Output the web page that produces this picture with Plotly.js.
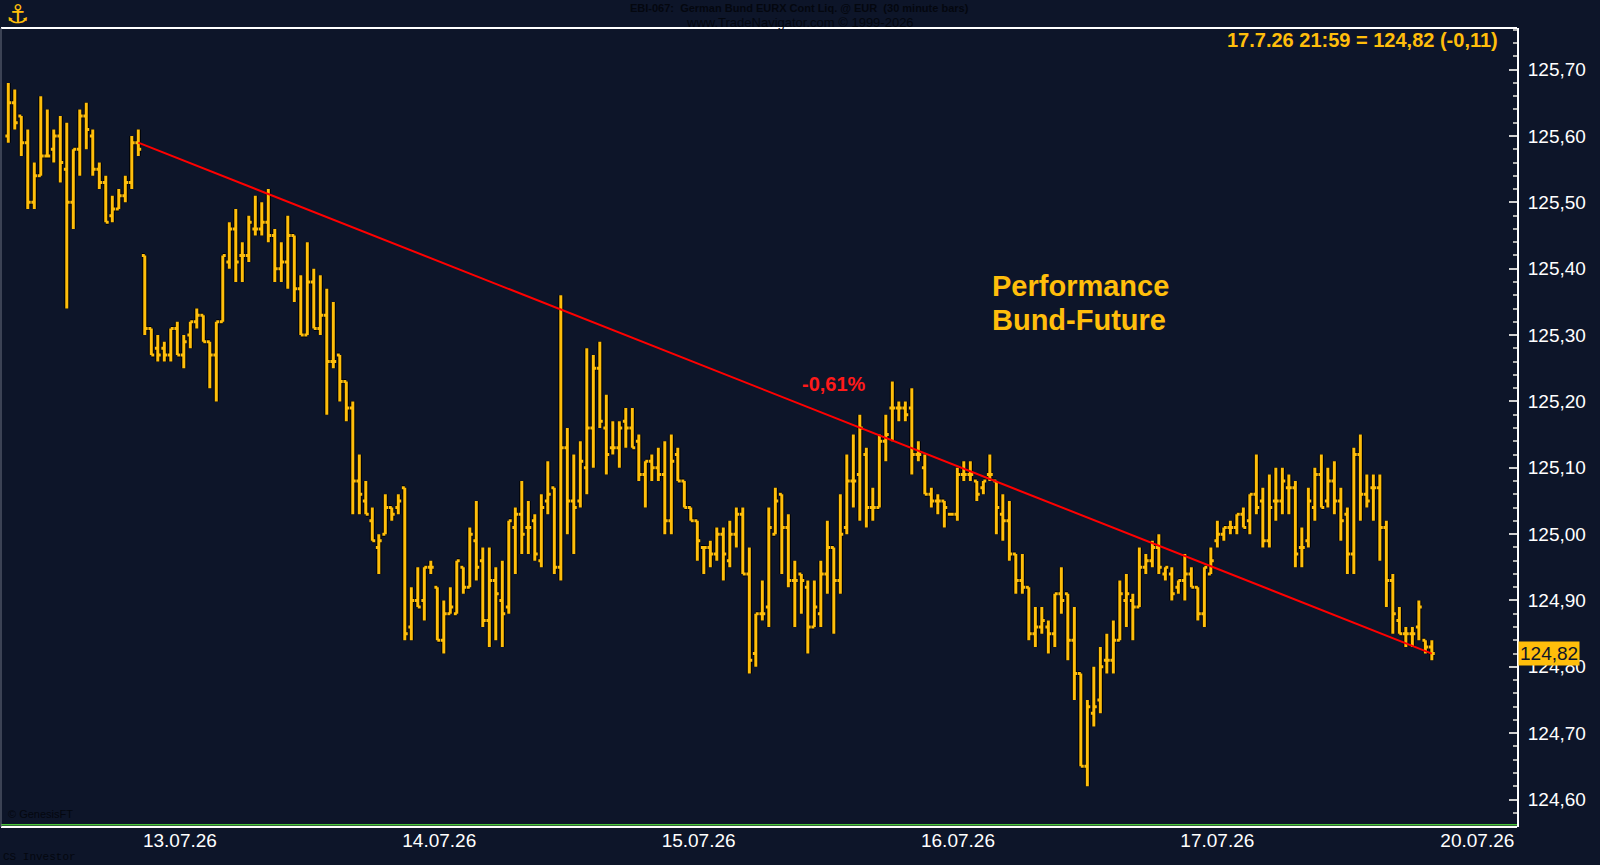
<!DOCTYPE html>
<html>
<head>
<meta charset="utf-8">
<script src="https://cdn.plot.ly/plotly-3.0.1.min.js"></script>
<style>
html,body{margin:0;padding:0;background:#0d1529;}
#chart{width:1600px;height:865px;}
</style>
</head>
<body>
<div id="chart"></div>
<script>
// 30-minute bars, German Bund EURX, 10.07.26 (late) to 17.07.26
const openP = [
125.60,125.65,125.63,125.59,125.50,125.54,125.57,125.58,125.60,125.55,
125.50,125.58,125.63,125.60,125.55,125.53,125.48,125.49,125.51,125.53,
125.59,125.42,125.31,125.28,125.28,125.27,125.31,125.27,125.30,125.32,
125.33,125.29,125.27,125.32,125.41,125.46,125.42,125.42,125.46,125.46,
125.47,125.45,125.40,125.41,125.45,125.37,125.30,125.38,125.31,125.33,
125.26,125.27,125.23,125.19,125.08,125.05,125.02,124.98,125.00,125.04,
125.04,125.07,124.86,124.90,124.90,124.95,124.92,124.84,124.88,124.88,
124.95,124.92,124.99,124.96,124.87,124.93,124.90,124.89,125.01,125.03,
125.01,125.02,124.96,125.05,125.07,124.95,125.13,125.05,125.05,125.10,
125.16,125.25,125.16,125.13,125.13,125.17,125.16,125.14,125.09,125.11,
125.10,125.09,125.02,125.12,125.08,125.04,125.02,124.98,124.98,124.97,
125.00,124.96,125.00,125.03,124.94,124.82,124.88,124.89,125.00,125.06,
125.01,124.93,124.94,124.92,124.86,124.88,124.94,124.98,124.93,125.01,
125.08,125.09,125.12,125.04,125.04,125.14,125.19,125.19,125.19,125.19,
125.12,125.10,125.06,125.05,125.05,125.03,125.03,125.09,125.09,125.08,
125.07,125.09,125.08,125.03,125.02,124.97,124.93,124.92,124.85,124.86,
124.86,124.85,124.91,124.91,124.84,124.79,124.65,124.73,124.75,124.81,
124.81,124.84,124.90,124.90,124.89,124.95,124.96,124.98,124.94,124.94,
124.92,124.93,124.94,124.92,124.88,124.94,124.99,125.00,125.01,125.01,
125.03,125.02,125.06,125.05,124.99,125.05,125.05,125.07,125.07,124.98,
124.99,125.04,125.09,125.05,125.08,125.05,125.03,124.97,125.12,125.06,
125.07,125.07,125.01,124.93,124.87,124.85,124.85,124.86,124.84,124.83
];
const highP = [
125.68,125.67,125.63,125.61,125.56,125.66,125.64,125.61,125.63,125.62,
125.58,125.64,125.65,125.61,125.56,125.54,125.51,125.52,125.54,125.60,
125.61,125.42,125.31,125.30,125.29,125.31,125.32,125.30,125.32,125.34,
125.33,125.29,125.32,125.42,125.47,125.49,125.44,125.48,125.51,125.50,
125.52,125.46,125.44,125.48,125.45,125.39,125.44,125.40,125.39,125.37,
125.35,125.27,125.23,125.20,125.12,125.08,125.04,125.00,125.06,125.04,
125.06,125.07,124.92,124.95,124.95,124.96,124.92,124.90,124.92,124.96,
124.95,125.01,125.05,124.98,124.98,124.95,124.96,125.02,125.04,125.08,
125.05,125.03,125.06,125.11,125.07,125.36,125.16,125.12,125.14,125.28,
125.27,125.29,125.21,125.17,125.17,125.19,125.19,125.15,125.11,125.12,
125.13,125.14,125.15,125.13,125.08,125.04,125.02,124.98,124.99,125.01,
125.01,125.02,125.04,125.04,124.98,124.88,124.93,125.04,125.07,125.06,
125.03,124.96,124.94,124.93,124.93,124.96,125.02,124.98,125.06,125.12,
125.15,125.18,125.13,125.07,125.15,125.18,125.23,125.20,125.20,125.22,
125.14,125.12,125.07,125.06,125.05,125.03,125.10,125.11,125.11,125.08,
125.08,125.12,125.08,125.06,125.05,124.97,124.97,124.92,124.89,124.89,
124.87,124.91,124.95,124.91,124.89,124.79,124.75,124.80,124.83,124.85,
124.87,124.93,124.94,124.91,124.98,124.97,124.99,125.00,124.95,124.95,
124.93,124.97,124.95,124.92,124.95,124.98,125.02,125.01,125.02,125.03,
125.04,125.06,125.12,125.07,125.09,125.10,125.10,125.09,125.08,125.01,
125.07,125.10,125.12,125.10,125.11,125.07,125.04,125.13,125.15,125.09,
125.09,125.09,125.02,124.94,124.89,124.86,124.86,124.90,124.84,124.84
];
const lowP = [
125.59,125.61,125.57,125.49,125.49,125.54,125.57,125.56,125.53,125.34,
125.46,125.54,125.58,125.54,125.52,125.47,125.47,125.49,125.50,125.52,
125.57,125.30,125.27,125.26,125.26,125.26,125.27,125.25,125.28,125.31,
125.29,125.22,125.20,125.32,125.40,125.38,125.38,125.41,125.45,125.45,
125.44,125.38,125.38,125.37,125.35,125.30,125.30,125.31,125.30,125.18,
125.25,125.20,125.17,125.03,125.03,125.03,124.99,124.94,125.00,125.02,
125.03,124.84,124.84,124.89,124.87,124.94,124.84,124.82,124.88,124.88,
124.91,124.92,124.93,124.86,124.83,124.84,124.83,124.88,124.94,124.97,
124.97,124.96,124.95,125.03,124.94,124.93,125.00,124.97,125.04,125.06,
125.10,125.16,125.09,125.12,125.10,125.13,125.13,125.08,125.04,125.08,
125.08,125.00,125.00,125.08,125.04,125.02,124.96,124.94,124.95,124.96,
124.93,124.95,124.98,124.94,124.79,124.80,124.87,124.86,125.00,124.94,
124.92,124.86,124.88,124.82,124.86,124.86,124.91,124.85,124.91,125.00,
125.04,125.02,125.01,125.02,125.04,125.11,125.14,125.17,125.17,125.09,
125.11,125.06,125.04,125.03,125.01,125.03,125.02,125.08,125.08,125.05,
125.06,125.08,125.00,124.99,124.96,124.91,124.91,124.84,124.83,124.85,
124.82,124.83,124.88,124.81,124.75,124.65,124.62,124.71,124.73,124.79,
124.79,124.84,124.86,124.84,124.89,124.94,124.95,124.94,124.93,124.90,
124.91,124.90,124.92,124.87,124.86,124.94,124.98,124.99,125.00,125.00,
125.01,125.00,125.03,124.98,124.98,125.02,125.03,125.03,124.95,124.95,
124.98,125.02,125.04,125.04,125.03,124.99,124.94,124.94,125.02,125.04,
125.02,124.96,124.89,124.85,124.85,124.83,124.83,124.84,124.82,124.81
];
const closeP = [
125.65,125.62,125.59,125.50,125.54,125.57,125.57,125.60,125.56,125.50,
125.58,125.63,125.61,125.55,125.53,125.47,125.49,125.51,125.53,125.59,
125.58,125.31,125.27,125.27,125.27,125.31,125.27,125.29,125.32,125.33,
125.29,125.27,125.32,125.42,125.46,125.41,125.42,125.47,125.46,125.47,
125.45,125.40,125.41,125.45,125.37,125.30,125.38,125.31,125.33,125.26,
125.26,125.23,125.19,125.08,125.06,125.03,124.99,124.99,125.04,125.03,
125.05,124.85,124.90,124.89,124.95,124.95,124.84,124.88,124.89,124.96,
124.92,125.00,124.95,124.87,124.93,124.91,124.88,125.02,125.03,125.00,
125.01,124.97,125.04,125.06,124.95,125.13,125.05,125.04,125.11,125.16,
125.25,125.17,125.12,125.13,125.16,125.16,125.13,125.09,125.11,125.10,
125.09,125.02,125.11,125.08,125.04,125.02,124.99,124.98,124.97,125.00,
124.97,125.00,125.03,124.94,124.81,124.88,124.88,125.01,125.05,125.01,
124.93,124.93,124.93,124.86,124.89,124.94,124.98,124.93,125.00,125.08,
125.08,125.16,125.04,125.04,125.14,125.15,125.19,125.19,125.18,125.12,
125.12,125.06,125.05,125.05,125.04,125.03,125.09,125.09,125.09,125.06,
125.08,125.09,125.04,125.02,124.97,124.93,124.92,124.85,124.86,124.87,
124.85,124.91,124.90,124.84,124.79,124.65,124.74,124.74,124.80,124.81,
124.84,124.91,124.91,124.89,124.95,124.96,124.98,124.95,124.95,124.91,
124.93,124.94,124.92,124.88,124.95,124.96,125.00,125.01,125.01,125.03,
125.01,125.06,125.04,124.99,125.04,125.05,125.08,125.07,124.97,124.98,
125.05,125.09,125.04,125.08,125.05,125.02,124.97,125.12,125.06,125.05,
125.07,125.01,124.93,124.88,124.85,124.85,124.85,124.89,124.83,124.82
];

// Trend line (start / end bar number and price)
const trendBars = [20, 219];
const trendPrices = [125.59, 124.82];

// Axis labels
const dayLabels = ["13.07.26", "14.07.26", "15.07.26", "16.07.26", "17.07.26", "20.07.26"];
const dayLabelBars = [26.4, 66.3, 106.2, 146.1, 186.0, 226.0];
const lastPrice = 124.82;
const lastInfo = "17.7.26 21:59 = 124,82 (-0,11)";
const perfText = "-0,61%";

const barNo = openP.map((_, i) => i);
const gold = "#FFBE0B";
const bg = "#0d1529";

const outline = {
  type: "ohlc", x: barNo, open: openP, high: highP, low: lowP, close: closeP,
  increasing: {line: {color: "#000000", width: 5}},
  decreasing: {line: {color: "#000000", width: 5}},
  tickwidth: 0.45, hoverinfo: "skip", showlegend: false
};
const bars = {
  type: "ohlc", x: barNo, open: openP, high: highP, low: lowP, close: closeP,
  increasing: {line: {color: gold, width: 3}},
  decreasing: {line: {color: gold, width: 3}},
  tickwidth: 0.45, hoverinfo: "skip", showlegend: false
};
const trend = {
  type: "scatter", mode: "lines", x: trendBars, y: trendPrices,
  line: {color: "#ff0000", width: 2}, hoverinfo: "skip", showlegend: false
};

const darkTxt = "#04070f";
const layout = {
  width: 1600, height: 865,
  paper_bgcolor: bg, plot_bgcolor: bg,
  margin: {l: 1, r: 83, t: 28, b: 38},
  separators: ",.",
  showlegend: false,
  hovermode: false,
  font: {family: "Liberation Sans, Arial, sans-serif", color: "#ffffff", size: 19},
  xaxis: {
    range: [-1.12, 232.1], showgrid: false, zeroline: false, showline: false,
    tickmode: "array", tickvals: dayLabelBars, ticktext: dayLabels,
    ticks: "", ticklabelstandoff: 0,
    tickfont: {size: 19, color: "#ffffff"},
    rangeslider: {visible: false}, fixedrange: true
  },
  yaxis: {
    side: "right", range: [124.5586, 125.7628],
    showgrid: false, zeroline: false,
    showline: true, linecolor: "#ffffff", linewidth: 2,
    tick0: 124.6, dtick: 0.1, tickformat: ".2f",
    ticks: "inside", ticklen: 8, tickwidth: 2, tickcolor: "#d0d0d0",
    minor: {dtick: 0.02, ticks: "inside", ticklen: 4, tickwidth: 2, tickcolor: "#b0b0b0"},
    ticklabelstandoff: 5,
    tickfont: {size: 19, color: "#ffffff"},
    fixedrange: true
  },
  shapes: [
    {type: "line", xref: "paper", yref: "paper", x0: 0, x1: 1, y0: 1, y1: 1, line: {color: "#ffffff", width: 2}},
    {type: "line", xref: "paper", yref: "paper", x0: 0, x1: 1, y0: 0, y1: 0, line: {color: "#ffffff", width: 2}},
    {type: "line", xref: "paper", yref: "paper", x0: 0, x1: 1, y0: 0.0028, y1: 0.0028, line: {color: "#4cc43a", width: 1.5}},
    {type: "line", xref: "paper", yref: "paper", x0: 0, x1: 0, y0: 0, y1: 1, line: {color: "#6a7080", width: 1}}
  ],
  annotations: [
    {xref: "paper", yref: "paper", x: 0.9888, y: 0.985, xanchor: "right", yanchor: "middle",
     text: "<b>" + lastInfo + "</b>", showarrow: false, font: {size: 20, color: gold}},
    {xref: "x", yref: "y", x: 151, y: 125.374, xanchor: "left", yanchor: "middle",
     text: "<b>Performance</b>", showarrow: false, font: {size: 29, color: gold}},
    {xref: "x", yref: "y", x: 151, y: 125.323, xanchor: "left", yanchor: "middle",
     text: "<b>Bund-Future</b>", showarrow: false, font: {size: 29, color: gold}},
    {xref: "x", yref: "y", x: 127, y: 125.226, xanchor: "center", yanchor: "middle",
     text: "<b>" + perfText + "</b>", showarrow: false, font: {size: 20, color: "#ff1a1a"}},
    {xref: "paper", yref: "y", x: 1, y: lastPrice, xanchor: "left", yanchor: "middle",
     text: lastPrice.toFixed(2).replace(".", ","), showarrow: false, bgcolor: gold,
     borderpad: 1, xshift: 1, font: {size: 19, color: "#0d1529"}},
    {xref: "paper", yref: "paper", x: 0.527, y: 1.025, xanchor: "center", yanchor: "middle",
     text: "<b>EBI-067:  German Bund EURX Cont Liq. @ EUR  (30 minute bars)</b>", showarrow: false,
     font: {size: 11, color: darkTxt}},
    {xref: "paper", yref: "paper", x: 0.527, y: 1.0066, xanchor: "center", yanchor: "middle",
     text: "www.TradeNavigator.com © 1999-2026", showarrow: false,
     font: {size: 13, color: darkTxt}},
    {xref: "paper", yref: "paper", x: 0.003, y: 0.006, xanchor: "left", yanchor: "bottom",
     text: "© GenesisFT", showarrow: false, font: {size: 11, color: darkTxt}},
    {xref: "paper", yref: "paper", x: 0, y: -0.028, xanchor: "left", yanchor: "top",
     text: "CS Investor", showarrow: false, font: {size: 11, family: "Liberation Mono, monospace", color: darkTxt}},
    {xref: "paper", yref: "paper", x: 0.011, y: 1.017, xanchor: "center", yanchor: "middle",
     text: "⚓", showarrow: false, font: {size: 26, color: gold, family: "DejaVu Sans"}}
  ]
};

Plotly.newPlot("chart", [outline, bars, trend], layout, {staticPlot: true, displayModeBar: false});
</script>
</body>
</html>
